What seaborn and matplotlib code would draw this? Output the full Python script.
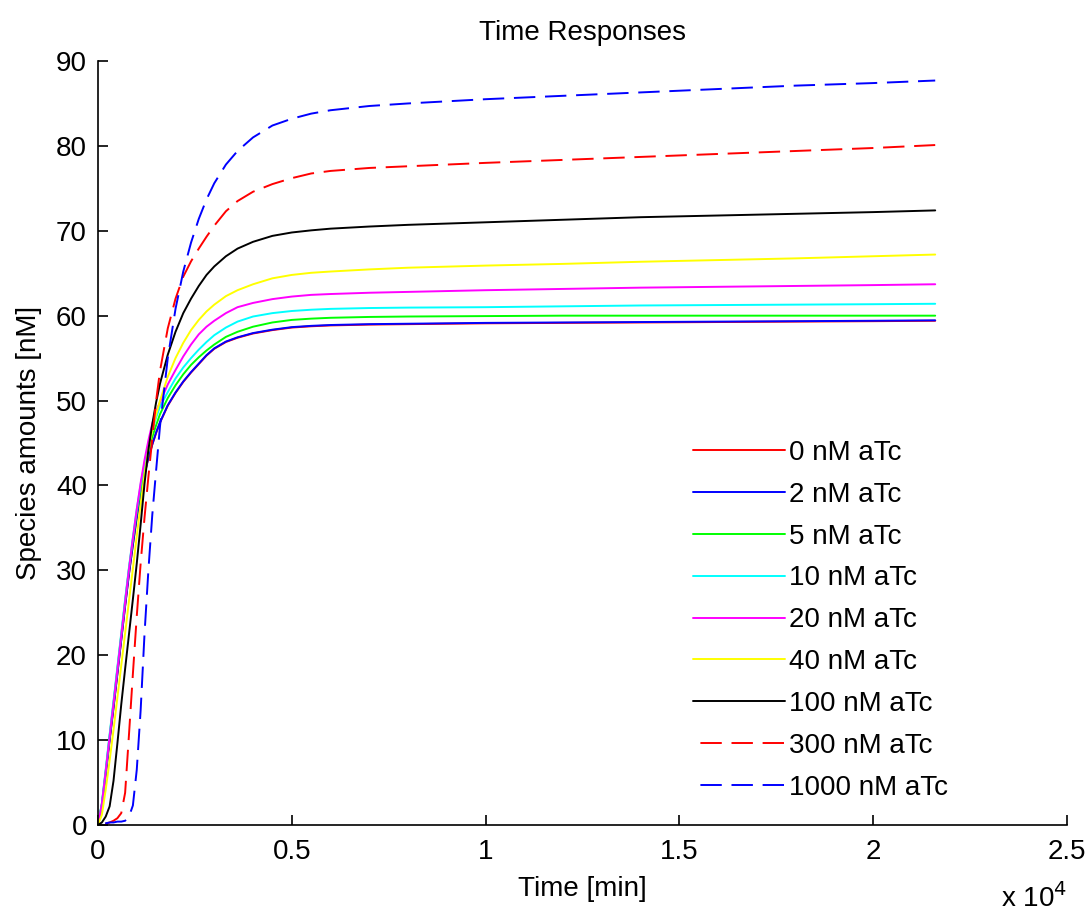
import numpy as np
import pandas as pd
import matplotlib
matplotlib.use("Agg")
import matplotlib.pyplot as plt
import seaborn as sns
from matplotlib.ticker import FuncFormatter

# ---- data ----
time_min = [0, 100, 200, 300, 400, 500, 600, 700, 800, 900, 1000, 1100, 1200, 1300,
            1400, 1500, 1600, 1800, 2000, 2200, 2400, 2600, 2800, 3000, 3300, 3600,
            4000, 4500, 5000, 5500, 6000, 7000, 8000, 10000, 12000, 14000, 16000,
            18000, 20000, 21600]

atc_0 = [0, 2.3, 6.0, 10.0, 13.8, 17.8, 21.8, 25.8, 29.6, 33.0, 36.2, 39.0, 41.3, 43.2,
         44.8, 46.2, 47.4, 49.4, 50.9, 52.2, 53.3, 54.3, 55.3, 56.1, 56.9, 57.4,
         57.9, 58.3, 58.6, 58.75, 58.85, 58.95, 59.0, 59.1, 59.15, 59.2, 59.25,
         59.3, 59.35, 59.4]
atc_2 = [0, 2.35, 6.05, 10.05, 13.85, 17.85, 21.85, 25.85, 29.65, 33.05, 36.25, 39.05,
         41.35, 43.25, 44.85, 46.25, 47.45, 49.45, 50.95, 52.25, 53.35, 54.35, 55.35,
         56.15, 56.95, 57.45, 57.95, 58.35, 58.65, 58.8, 58.9, 59.0, 59.05, 59.15,
         59.2, 59.25, 59.3, 59.35, 59.4, 59.45]
atc_5 = [0, 2.5, 6.4, 10.5, 14.4, 18.4, 22.4, 26.4, 30.2, 33.6, 36.8, 39.6, 42.0, 44.0,
         45.7, 47.1, 48.4, 50.3, 51.8, 53.1, 54.2, 55.1, 55.9, 56.6, 57.5, 58.1,
         58.7, 59.2, 59.5, 59.65, 59.75, 59.85, 59.9, 59.95, 60.0, 60.0, 60.0,
         60.0, 60.0, 60.0]
atc_10 = [0, 2.6, 6.6, 10.7, 14.6, 18.6, 22.6, 26.6, 30.4, 33.9, 37.2, 40.1, 42.6, 44.7,
          46.5, 48.0, 49.3, 51.0, 52.6, 53.9, 55.0, 56.0, 56.9, 57.7, 58.6, 59.3,
          59.9, 60.3, 60.55, 60.7, 60.8, 60.9, 60.95, 61.0, 61.1, 61.2, 61.25,
          61.3, 61.35, 61.4]
atc_20 = [0, 2.5, 6.4, 10.4, 14.3, 18.3, 22.3, 26.3, 30.2, 33.8, 37.2, 40.3, 43.0, 45.3,
          47.3, 48.8, 49.8, 51.9, 53.6, 55.2, 56.6, 57.8, 58.7, 59.4, 60.3, 61.0,
          61.5, 61.95, 62.25, 62.45, 62.55, 62.7, 62.8, 63.0, 63.15, 63.3, 63.4,
          63.5, 63.6, 63.7]
atc_40 = [0, 1.2, 4.2, 7.6, 11.2, 15.0, 18.8, 22.6, 26.4, 30.2, 34.0, 37.8, 41.3, 44.2,
          46.5, 48.4, 50.0, 52.8, 55.0, 56.8, 58.3, 59.5, 60.5, 61.3, 62.3, 63.0,
          63.7, 64.4, 64.8, 65.05, 65.2, 65.45, 65.65, 65.9, 66.1, 66.35, 66.55,
          66.75, 67.0, 67.2]
atc_100 = [0, 0.3, 1.0, 2.2, 5.2, 9.6, 14.2, 18.4, 22.5, 26.6, 30.8, 35.4, 40.2, 44.2,
           47.2, 49.8, 52.0, 55.4, 58.1, 60.3, 62.0, 63.5, 64.8, 65.8, 67.0, 67.9,
           68.7, 69.4, 69.8, 70.05, 70.25, 70.5, 70.7, 71.0, 71.3, 71.6, 71.8,
           72.0, 72.2, 72.4]
atc_300 = [0, 0.05, 0.15, 0.3, 0.5, 0.8, 1.4, 3.8, 10.7, 17.8, 24.6, 30.8, 36.2, 41.0,
           45.5, 50.0, 53.5, 58.5, 62.0, 64.6, 66.4, 67.9, 69.3, 70.6, 72.3, 73.5,
           74.6, 75.5, 76.2, 76.75, 77.05, 77.4, 77.6, 78.0, 78.35, 78.7, 79.05,
           79.4, 79.75, 80.1]
atc_1000 = [0, 0.1, 0.2, 0.3, 0.3, 0.4, 0.4, 0.5, 1.0, 2.3, 6.5, 13.5, 22.5, 30.0,
            36.5, 41.8, 47.0, 55.0, 60.8, 65.2, 68.6, 71.4, 73.7, 75.6, 77.8, 79.4,
            81.0, 82.4, 83.2, 83.8, 84.2, 84.7, 85.0, 85.5, 85.9, 86.3, 86.7,
            87.1, 87.4, 87.7]

labels = ["0 nM aTc", "2 nM aTc", "5 nM aTc", "10 nM aTc", "20 nM aTc",
          "40 nM aTc", "100 nM aTc", "300 nM aTc", "1000 nM aTc"]
series = [atc_0, atc_2, atc_5, atc_10, atc_20, atc_40, atc_100, atc_300, atc_1000]
colors = ["#FF0000", "#0000FF", "#00FF00", "#00FFFF", "#FF00FF", "#FFFF00",
          "#000000", "#FF0000", "#0000FF"]
dashed = [False] * 7 + [True] * 2

x_ticks = [0, 5000, 10000, 15000, 20000, 25000]
y_ticks = [0, 10, 20, 30, 40, 50, 60, 70, 80, 90]

# ---- style ----
sns.set_theme(style="white")
plt.rcParams["font.family"] = ["Liberation Sans", "DejaVu Sans"]
plt.rcParams["font.size"] = 20
plt.rcParams["text.color"] = "black"
plt.rcParams["axes.labelcolor"] = "black"

fig = plt.figure(figsize=(10.89, 9.18), dpi=100)
ax = fig.add_axes([98 / 1089, 1 - 825 / 918, (1067 - 98) / 1089, (825 - 61) / 918])

for lab, vals, col, dsh in zip(labels, series, colors, dashed):
    df = pd.DataFrame({"t": time_min, "v": vals})
    ls = (12.2, (11, 5)) if dsh else "-"
    sns.lineplot(data=df, x="t", y="v", ax=ax, color=col, linewidth=1.4,
                 linestyle=ls, label=lab, sort=False, estimator=None)

ax.set_xlim(0, 25000)
ax.set_ylim(0, 90)
ax.set_xticks(x_ticks)
ax.set_yticks(y_ticks)
ax.xaxis.set_major_formatter(FuncFormatter(lambda v, p: f"{v / 1e4:g}"))
ax.tick_params(direction="in", length=7, width=1.2, colors="black",
               labelcolor="black", labelsize=20, bottom=True, left=True,
               top=False, right=False)
ax.tick_params(axis="x", pad=10)
ax.tick_params(axis="y", pad=8)
for s in ["top", "right"]:
    ax.spines[s].set_visible(False)
for s in ["left", "bottom"]:
    ax.spines[s].set_color("black")
    ax.spines[s].set_linewidth(1.2)

ax.set_title("Time Responses", fontsize=20, pad=15, color="black")
ax.set_xlabel("Time [min]", fontsize=20, labelpad=8, color="black")
ax.set_ylabel("Species amounts [nM]", fontsize=20, labelpad=10, color="black")
ax.text(1.0, -0.076, r"x 10$^{4}$", transform=ax.transAxes, ha="right",
        va="top", fontsize=20, color="black")

leg = ax.legend(loc="center left", bbox_to_anchor=(0.614, 0.268), frameon=False,
                fontsize=20, handlelength=3.3, handletextpad=0.15,
                labelspacing=0.57, borderpad=0, borderaxespad=0)
for t in leg.get_texts():
    t.set_color("black")

fig.savefig("out.png", dpi=100)
